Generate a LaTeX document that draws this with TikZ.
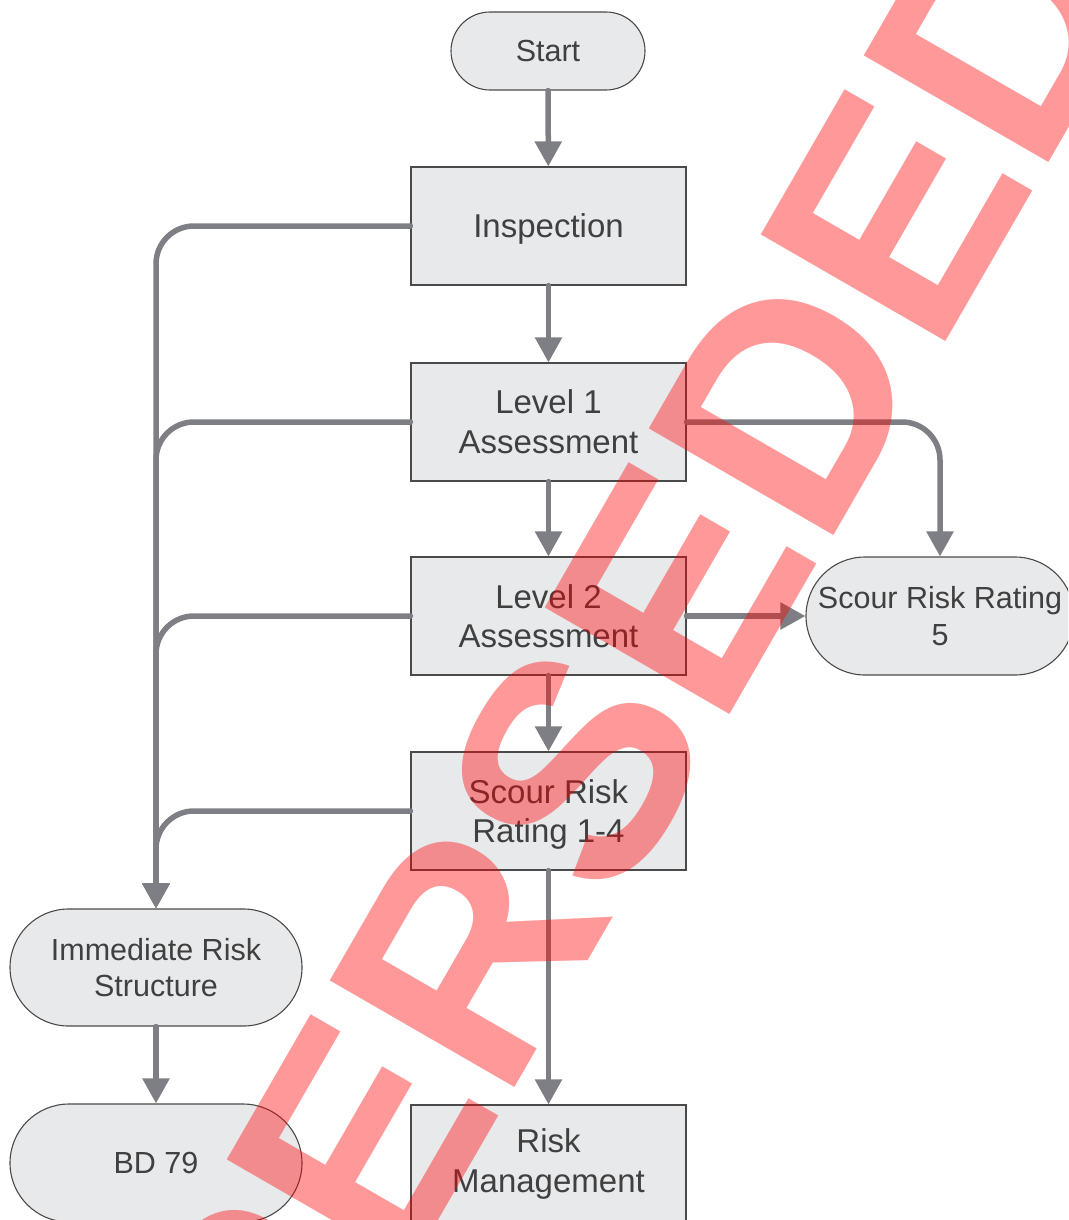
\documentclass[tikz,border=0pt]{standalone}
\usepackage{fontspec}
\setmainfont{Liberation Sans}
\usetikzlibrary{arrows.meta}
\definecolor{linegray}{HTML}{7E7F84}
\definecolor{boxfill}{HTML}{E8E9EB}
\definecolor{boxline}{HTML}{4A4A4A}
\definecolor{txt}{HTML}{404040}
% a line of text whose descenders do not count for centring
\newcommand{\nodepth}[1]{\raisebox{0pt}[\height][0pt]{#1}}
\begin{document}
\begin{tikzpicture}[x=1pt,y=-1pt,
  base/.style={draw=boxline, line width=1.1pt, fill=boxfill, text=txt, align=center, inner sep=0pt},
  procbox/.style={base, minimum width=275pt, minimum height=118pt, font=\fontsize{33}{39.6}\selectfont},
  term/.style={base, rounded corners=#1, font=\fontsize{30.5}{36.6}\selectfont},
  flow/.style={draw=linegray, line width=5.5pt, line cap=round, rounded corners=38pt,
    -{Triangle[width=26pt,length=25pt]}},
]
\useasboundingbox (0,0) rectangle (1068,1220);
\clip (0,0) rectangle (1068,1220);

% terminators
\node[term=39pt, minimum width=194pt, minimum height=78pt] (start) at (548,51) {Start};
\node[term=58.5pt, minimum width=292pt, minimum height=117pt] (imm) at (156,967.5) {Immediate Risk\\Structure};
\node[term=59pt, minimum width=292pt, minimum height=118pt] (bd) at (156,1163) {BD 79};
\node[term=59pt, minimum width=268pt, minimum height=118pt] (srr5) at (940,616) {Scour Risk Rating\\5};

% process steps
\node[procbox] (insp) at (548.5,226) {\nodepth{Inspection}};
\node[procbox] (l1) at (548.5,422) {Level 1\\Assessment};
\node[procbox] (l2) at (548.5,616) {Level 2\\Assessment};
\node[procbox] (srr14) at (548.5,811) {Scour Risk\\\nodepth{Rating 1-4}};
\node[procbox] (rm) at (548.5,1164) {Risk\\Management};

% main sequence
\draw[flow] (start) -- (insp);
\draw[flow] (insp) -- (l1);
\draw[flow] (l1) -- (l2);
\draw[flow] (l2) -- (srr14);
\draw[flow] (srr14) -- (rm);
\draw[flow] (imm) -- (bd);

% branches to the immediate-risk trunk
\draw[flow] (insp.west) -| (imm.north);
\draw[flow] (l1.west) -| (imm.north);
\draw[flow] (l2.west) -| (imm.north);
\draw[flow] (srr14.west) -| (imm.north);

% branches to rating 5
\draw[flow] (l1.east) -| (srr5.north);
\draw[flow] (l2.east) -- (srr5.west);

% watermark
\node[rotate=60, anchor=base west, inner sep=0pt, text=red, text opacity=0.4,
  font=\fontsize{310}{310}\selectfont\bfseries] (wm) at (82.5,1837) {SUPERSEDED};
\end{tikzpicture}
\end{document}
